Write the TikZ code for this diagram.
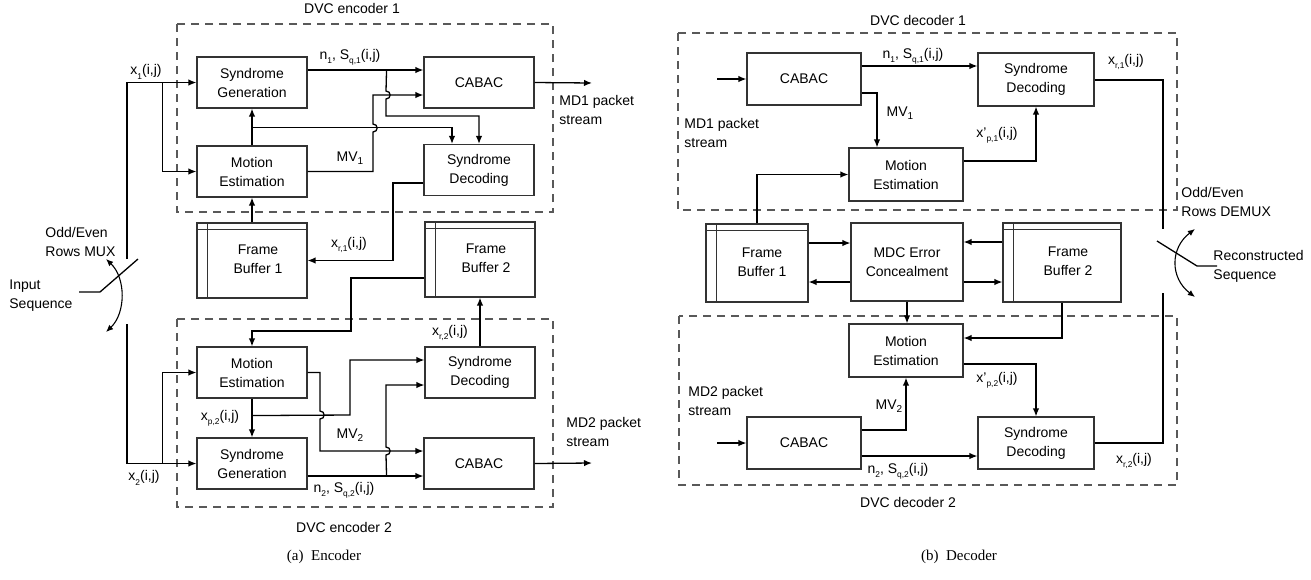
\documentclass[tikz,border=0pt]{standalone}
\usepackage{fontspec}
\setmainfont{Liberation Sans}
\newfontfamily\capfont{Liberation Serif}
\usetikzlibrary{calc,arrows.meta}
\newcommand{\sbx}[1]{\raisebox{-2.2pt}{\fontsize{4.2}{4.2}\selectfont #1}}
\newcommand{\sbm}[1]{\raisebox{-1.2pt}{\fontsize{5}{5}\selectfont #1}}
\begin{document}
\begin{tikzpicture}[x=0.5pt, y=-0.5pt, font=\fontsize{7}{9.5}\selectfont,
  blk/.style={draw=black!80, line width=0.55pt, inner sep=0pt, align=center, minimum width=55pt, minimum height=25.5pt},
  fbx/.style={draw=black!80, line width=0.55pt, inner sep=0pt, minimum width=55pt, minimum height=37.5pt},
  arr/.style={-{Latex[length=4pt,width=3.2pt]}, line width=0.65pt},
  ln/.style={line width=0.65pt},
  sw/.style={{Latex[length=3.6pt,width=3pt]}-{Latex[length=3.6pt,width=3pt]}, line width=0.55pt},
  dbox/.style={draw=black!65, dash pattern=on 4pt off 3pt, line width=0.55pt},
  inl/.style={draw=black!80, line width=0.55pt},
  lbl/.style={inner sep=0pt, align=left},
  txt/.style={inner sep=0pt, align=center}]
\useasboundingbox (0,0) rectangle (1311,579);

% ---------------- dashed frames
\draw[dbox] (177,24) rectangle (553,212);
\draw[dbox] (177,319) rectangle (553,507);
\draw[dbox] (678,33) rectangle (1177,210);
\draw[dbox] (679,316) rectangle (1177,485);

% ---------------- encoder blocks
\node[blk] (SG1) at (252,82.5) {Syndrome\\Generation};
\node[blk] (ME1) at (252,171.5) {Motion\\Estimation};
\node[blk] (CA1) at (479,82.5) {CABAC};
\node[blk] (SD1) at (479,170) {Syndrome\\Decoding};
\node[fbx] (FB1) at (252,260.5) {};
\node[fbx] (FB2) at (480,259.5) {};
\node[blk] (ME2) at (252,372.5) {Motion\\Estimation};
\node[blk] (SG2) at (252,463.5) {Syndrome\\Generation};
\node[blk] (SD2) at (480,372.5) {Syndrome\\Decoding};
\node[blk] (CA2) at (479,463.5) {CABAC};
\node[txt] (FB1t) at ($(FB1.center)+(6,-1)$) {Frame\\Buffer 1};
\node[txt] (FB2t) at ($(FB2.center)+(6,-1)$) {Frame\\Buffer 2};
\foreach \f in {FB1,FB2}{
  \draw[inl] ($(\f.north west)+(11,0)$) -- ($(\f.south west)+(11,0)$);
  \draw[inl] ($(\f.north west)+(0,7)$) -- ($(\f.north east)+(0,7)$);
}

% ---------------- encoder connectors
\coordinate (muxA) at (127,259);
\coordinate (muxB) at (127,324);
\draw[arr] (muxA) |- (SG1.west);
\draw[arr] ($(SG1.west)+(-34,0)$) |- (ME1.west);
\draw[arr] (ME1.north) -- (SG1.south);
\draw[arr] ($(ME1.north)+(0,-18)$) -| ($(SD1.north)+(-27,0)$);
\draw[arr] ($(SG1.east)+(0,-12.5)$) -- ($(CA1.west)+(0,-12.5)$);
\draw[arr] ($(SG1.east)+(79,-12.5)$) -- (386,91) .. controls (391.5,91) and (391.5,99) .. (386,99) -- (386,116) -| (SD1.north);
\draw[arr] (ME1.east) -- (373,171.5) -- (373,132) .. controls (378.5,132) and (378.5,124) .. (373,124) |- ($(CA1.west)+(0,12.5)$);
\draw[arr] ($(SD1.west)+(0,13)$) -| (393,260.5) -- (FB1.east);
\draw[arr] (FB1.north) -- (ME1.south);
\draw[arr] ($(FB2.west)+(0,18.5)$) -| (351,331) -| (ME2.north);
\draw[arr] (muxB) |- (SG2.west);
\draw[arr] ($(SG2.west)+(-34,0)$) |- (ME2.west);
\draw[arr] (ME2.south) -- (SG2.north);
\draw[arr] ($(ME2.south)+(0,17)$) -- (350,415) |- ($(SD2.west)+(0,-12.5)$);
\draw[arr] (ME2.east) -- (320,372.5) -- (320,411) .. controls (325.5,411) and (325.5,419) .. (320,419) |- ($(CA2.west)+(0,-12.5)$);
\draw[arr] ($(SG2.east)+(0,12.5)$) -- ($(CA2.west)+(0,12.5)$);
\draw[arr] ($(SG2.east)+(79,12.5)$) -- (386,455) .. controls (391.5,455) and (391.5,447) .. (386,447) |- ($(SD2.west)+(0,12.5)$);
\draw[arr] (SD2.north) -- (FB2.south);
\coordinate (out1) at (592,83);
\coordinate (out2) at (592,463);
\draw[arr] (CA1.east) -- (out1);
\draw[arr] (CA2.east) -- (out2);

% mux switch
\coordinate (inS) at (79,292);
\coordinate (swL) at (100,292);
\coordinate (swR) at (138,259);
\draw[ln] (inS) -- (swL) -- (swR);
\draw[sw] (106,259) .. controls (126,278) and (126,313) .. (106,332);

% encoder labels
\node[txt] (lx1) at (146,72) {x\sbx{1}(i,j)};
\node[txt] (ln1) at (350,57) {n\sbx{1}, S\sbx{q,1}(i,j)};
\node[txt] (lmv1) at (350,158) {MV\sbm{1}};
\node[lbl, anchor=west] (lmd1) at (559,110) {MD1 packet\\stream};
\node[txt] (lxr1) at (349,245) {x\sbx{r,1}(i,j)};
\node[txt] (lxr2) at (450,333) {x\sbx{r,2}(i,j)};
\node[txt] (lxp2) at (220,418) {x\sbx{p,2}(i,j)};
\node[txt] (lmv2) at (350,435) {MV\sbm{2}};
\node[txt] (ln2) at (344,490) {n\sbx{2}, S\sbx{q,2}(i,j)};
\node[txt] (lx2) at (144,478) {x\sbx{2}(i,j)};
\node[lbl, anchor=west] (lmd2) at (566,432) {MD2 packet\\stream};
\node[txt] (le1) at (352,8) {DVC encoder 1};
\node[txt] (le2) at (344,527) {DVC encoder 2};
\node[lbl, anchor=west] (lmux) at (45,242) {Odd/Even\\Rows MUX};
\node[lbl, anchor=west] (lin) at (9,296) {Input\\Sequence};
\node[txt, font=\capfont\fontsize{7.5}{9}\selectfont] (capa) at (324,557) {(a)\enspace Encoder};

% ---------------- decoder blocks
\node[blk, minimum width=57pt, minimum height=26pt] (DC1) at (804,79) {CABAC};
\node[blk, minimum width=58pt, minimum height=26.5pt] (DS1) at (1036,79.5) {Syndrome\\Decoding};
\node[blk, minimum width=57pt, minimum height=26.5pt] (DM1) at (906,174.5) {Motion\\Estimation};
\node[fbx, minimum width=51pt, minimum height=39pt] (DF1) at (757,263) {};
\node[blk, minimum width=56pt, minimum height=39pt] (MDC) at (907,262) {MDC Error\\Concealment};
\node[fbx, minimum width=59pt, minimum height=39.5pt] (DF2) at (1062,262.5) {};
\node[blk, minimum width=57pt, minimum height=26.5pt] (DM2) at (906,350.5) {Motion\\Estimation};
\node[blk, minimum width=57pt, minimum height=26pt] (DC2) at (804,443) {CABAC};
\node[blk, minimum width=58pt, minimum height=26pt] (DS2) at (1036,443) {Syndrome\\Decoding};
\node[txt] (DF1t) at ($(DF1.center)+(5,-1)$) {Frame\\Buffer 1};
\node[txt] (DF2t) at ($(DF2.center)+(6,-1)$) {Frame\\Buffer 2};
\foreach \f in {DF1,DF2}{
  \draw[inl] ($(\f.north west)+(11,0)$) -- ($(\f.south west)+(11,0)$);
  \draw[inl] ($(\f.north west)+(0,7)$) -- ($(\f.north east)+(0,7)$);
}

% ---------------- decoder connectors
\coordinate (din1) at (717,79);
\draw[arr] (din1) -- (DC1.west);
\draw[arr] ($(DC1.east)+(0,-13)$) -- ($(DS1.west)+(0,-13.5)$);
\draw[arr] ($(DC1.east)+(0,14)$) -| ($(DM1.north)+(-29,0)$);
\draw[arr] (DF1.north) |- (DM1.west);
\draw[arr] ($(DM1.east)+(0,-13.5)$) -| (DS1.south);
\coordinate (dmA) at (1163,229);
\draw[ln] ($(DS1.east)+(0,0.5)$) -| (dmA);
\draw[arr] ($(DF1.east)+(0,-20)$) -- ($(MDC.west)+(0,-19)$);
\draw[arr] ($(MDC.west)+(0,20)$) -- ($(DF1.east)+(0,19)$);
\draw[arr] ($(DF2.west)+(0,-20.5)$) -- ($(MDC.east)+(0,-20)$);
\draw[arr] ($(MDC.east)+(0,20)$) -- ($(DF2.west)+(0,19.5)$);
\draw[arr] (MDC.south) -- (MDC.south |- DM2.north);
\draw[arr] (DF2.south) |- ($(DM2.east)+(0,-12.5)$);
\draw[arr] ($(DM2.east)+(0,13.5)$) -| (DS2.north);
\coordinate (din2) at (717,443);
\draw[arr] (din2) -- (DC2.west);
\draw[arr] ($(DC2.east)+(0,-13)$) -| (DM2.south);
\draw[arr] ($(DC2.east)+(0,13)$) -- ($(DS2.west)+(0,13)$);
\coordinate (dmB) at (1163,293);
\draw[ln] (DS2.east) -| (dmB);

% demux switch
\coordinate (dsL) at (1157,241);
\coordinate (dsR) at (1197,266);
\coordinate (dout) at (1217,266);
\draw[ln] (dsL) -- (dsR) -- (dout);
\draw[sw] (1195,229) .. controls (1170,248) and (1170,278) .. (1195,297);

% decoder labels
\node[txt] (ld1) at (918,20) {DVC decoder 1};
\node[txt] (ldn1) at (913,56) {n\sbx{1}, S\sbx{q,1}(i,j)};
\node[txt] (ldmv1) at (900,113) {MV\sbm{1}};
\node[lbl, anchor=west] (ldmd1) at (684,133) {MD1 packet\\stream};
\node[txt] (ldxp1) at (997,135) {x'\sbx{p,1}(i,j)};
\node[txt] (ldxr1) at (1126,62) {x\sbx{r,1}(i,j)};
\node[lbl, anchor=west] (ldmd2) at (688,401) {MD2 packet\\stream};
\node[txt] (ldmv2) at (889,406) {MV\sbm{2}};
\node[txt] (ldn2) at (898,471) {n\sbx{2}, S\sbx{q,2}(i,j)};
\node[txt] (ldxp2) at (997,380) {x'\sbx{p,2}(i,j)};
\node[txt] (ldxr2) at (1134,461) {x\sbx{r,2}(i,j)};
\node[txt] (ld2) at (908,502) {DVC decoder 2};
\node[lbl, anchor=west] (ldmux) at (1181,202) {Odd/Even\\Rows DEMUX};
\node[lbl, anchor=west] (ldrec) at (1213,266) {Reconstructed\\Sequence};
\node[txt, font=\capfont\fontsize{7.5}{9}\selectfont] (capb) at (959,557) {(b)\enspace Decoder};
\end{tikzpicture}
\end{document}
